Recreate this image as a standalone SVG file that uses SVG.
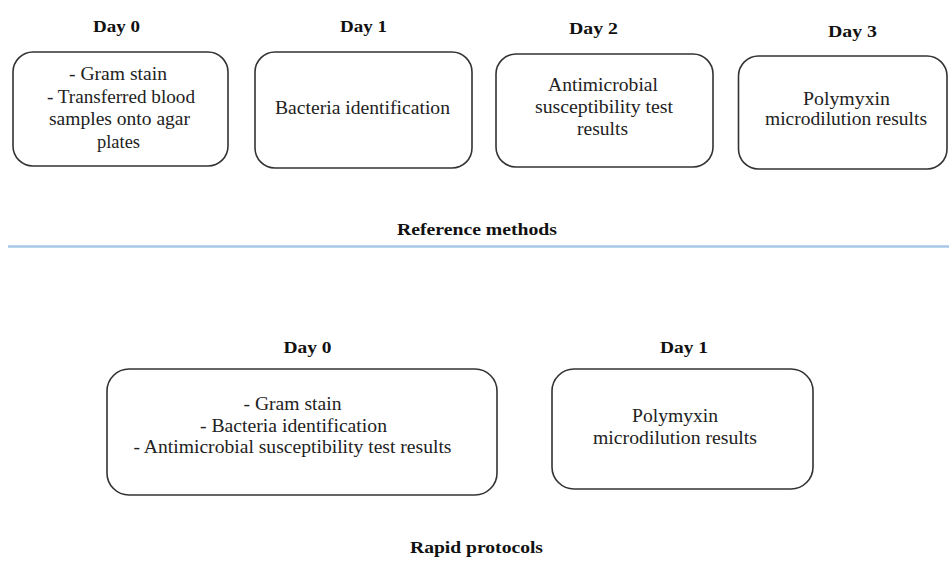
<svg xmlns="http://www.w3.org/2000/svg" width="949" height="569" viewBox="0 0 949 569">
<style>
.box{fill:#fff;stroke:#333;stroke-width:1.6}
.t{font-family:'Liberation Serif','Times New Roman',serif;font-size:18px;fill:#222;text-anchor:middle}
.h{font-family:'Liberation Serif','Times New Roman',serif;font-size:17px;font-weight:bold;fill:#111;text-anchor:middle}
</style>
<rect width="949" height="569" fill="#fff"/>
<g id="ref-day0">
<text class="h" x="116.5" y="32" textLength="47" lengthAdjust="spacingAndGlyphs">Day 0</text>
<rect class="box" x="13" y="52" width="215" height="114" rx="20"/>
<text class="t" x="118" y="80" textLength="98" lengthAdjust="spacingAndGlyphs">- Gram stain</text>
<text class="t" x="121" y="103" textLength="148" lengthAdjust="spacingAndGlyphs">- Transferred blood</text>
<text class="t" x="119.5" y="125" textLength="141" lengthAdjust="spacingAndGlyphs">samples onto agar</text>
<text class="t" x="118.5" y="148" textLength="43" lengthAdjust="spacingAndGlyphs">plates</text>
</g>
<g id="ref-day1">
<text class="h" x="363.5" y="32" textLength="47" lengthAdjust="spacingAndGlyphs">Day 1</text>
<rect class="box" x="255" y="52" width="217" height="116" rx="20"/>
<text class="t" x="362.5" y="114" textLength="175" lengthAdjust="spacingAndGlyphs">Bacteria identification</text>
</g>
<g id="ref-day2">
<text class="h" x="593.5" y="34" textLength="49" lengthAdjust="spacingAndGlyphs">Day 2</text>
<rect class="box" x="496" y="54" width="217" height="113" rx="20"/>
<text class="t" x="603" y="91" textLength="110" lengthAdjust="spacingAndGlyphs">Antimicrobial</text>
<text class="t" x="604" y="113" textLength="138" lengthAdjust="spacingAndGlyphs">susceptibility test</text>
<text class="t" x="602.5" y="135" textLength="51" lengthAdjust="spacingAndGlyphs">results</text>
</g>
<g id="ref-day3">
<text class="h" x="852.5" y="37" textLength="49" lengthAdjust="spacingAndGlyphs">Day 3</text>
<rect class="box" x="738.5" y="56" width="208.5" height="113" rx="20"/>
<text class="t" x="846.5" y="105" textLength="87" lengthAdjust="spacingAndGlyphs">Polymyxin</text>
<text class="t" x="846" y="125" textLength="162" lengthAdjust="spacingAndGlyphs">microdilution results</text>
</g>
<g id="ref-title">
<text class="h" x="477" y="235" textLength="160" lengthAdjust="spacingAndGlyphs">Reference methods</text>
</g>
<g id="connectors">
<line x1="8" y1="246.5" x2="949" y2="246.5" stroke="#a7c7e7" stroke-width="2.5"/>
</g>
<g id="rapid-day0">
<text class="h" x="307.5" y="353" textLength="48" lengthAdjust="spacingAndGlyphs">Day 0</text>
<rect class="box" x="107" y="369" width="390" height="126" rx="22"/>
<text class="t" x="292.5" y="410" textLength="98" lengthAdjust="spacingAndGlyphs">- Gram stain</text>
<text class="t" x="293.5" y="432" textLength="187" lengthAdjust="spacingAndGlyphs">- Bacteria identification</text>
<text class="t" x="292.5" y="453" textLength="318" lengthAdjust="spacingAndGlyphs">- Antimicrobial susceptibility test results</text>
</g>
<g id="rapid-day1">
<text class="h" x="684" y="353" textLength="48" lengthAdjust="spacingAndGlyphs">Day 1</text>
<rect class="box" x="552" y="369" width="261" height="120" rx="22"/>
<text class="t" x="675" y="422" textLength="86" lengthAdjust="spacingAndGlyphs">Polymyxin</text>
<text class="t" x="675" y="444" textLength="164" lengthAdjust="spacingAndGlyphs">microdilution results</text>
</g>
<g id="rapid-title">
<text class="h" x="476.5" y="553" textLength="133" lengthAdjust="spacingAndGlyphs">Rapid protocols</text>
</g>
</svg>
